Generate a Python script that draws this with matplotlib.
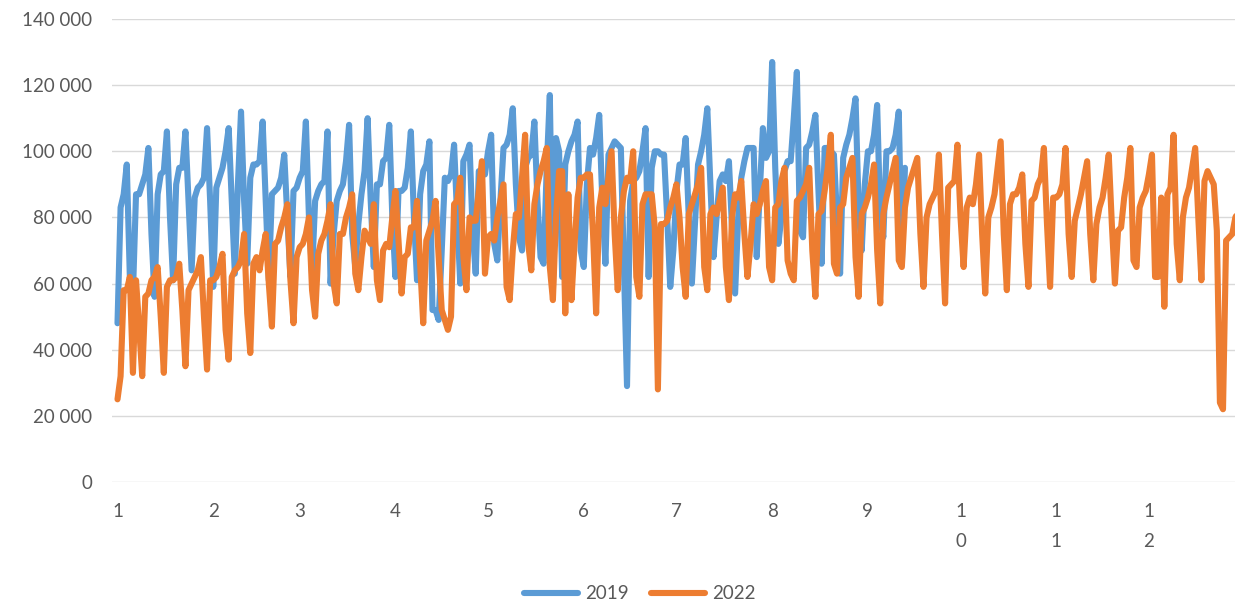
import numpy as np
import matplotlib
matplotlib.use("Agg")
import matplotlib.pyplot as plt
from matplotlib.ticker import FuncFormatter

# daily values, thousands, position = day of year
y2019 = [
    48, 83, 87, 96, 62, 57, 87, 87, 90, 93, 101, 75, 56, 87, 93, 94, 106, 80, 61, 90,
    95, 95, 106, 85, 64, 86, 89, 90, 92, 107, 85, 59, 89, 92, 95, 100, 107, 85, 63, 90,
    112, 85, 66, 92, 96, 96, 97, 109, 85, 61, 87, 88, 89, 92, 99, 80, 62, 88, 89, 92,
    94, 109, 80, 63, 85, 88, 90, 91, 106, 60, 75, 85, 88, 90, 97, 108, 75, 65, 78, 87,
    94, 110, 85, 65, 90, 90, 97, 98, 108, 80, 62, 88, 88, 89, 95, 106, 80, 61, 87, 94,
    96, 103, 52, 52, 49, 70, 92, 91, 93, 102, 80, 60, 97, 99, 102, 76, 63, 94, 93, 93,
    100, 105, 72, 67, 85, 101, 102, 105, 113, 90, 74, 70, 95, 98, 99, 109, 85, 68, 66, 95,
    117, 58, 104, 100, 62, 96, 100, 103, 105, 109, 70, 65, 90, 101, 99, 104, 111, 85, 66, 99,
    101, 103, 102, 101, 65, 29, 85, 91, 92, 94, 100, 107, 62, 95, 100, 100, 99, 99, 80, 59,
    70, 88, 96, 96, 104, 80, 60, 78, 96, 100, 105, 113, 90, 68, 80, 91, 93, 91, 97, 77,
    57, 80, 92, 97, 101, 101, 101, 68, 88, 107, 98, 100, 127, 95, 72, 80, 94, 97, 97, 110,
    124, 76, 74, 101, 102, 106, 111, 88, 66, 101, 101, 100, 99, 80, 63, 98, 102, 105, 110, 116,
    83, 70, 90, 100, 100, 105, 114, 80, 74, 100, 100, 101, 105, 112, 66, 95,
]

y2022 = [
    25, 32, 58, 58, 62, 33, 61, 47, 32, 56, 57, 61, 62, 65, 50, 33, 59, 61, 61, 62,
    66, 52, 35, 58, 60, 62, 64, 68, 50, 34, 61, 61, 62, 65, 69, 46, 37, 62, 64, 65,
    67, 75, 51, 39, 66, 68, 64, 70, 75, 60, 47, 72, 73, 77, 80, 84, 61, 48, 68, 71,
    72, 75, 80, 58, 50, 69, 73, 75, 79, 84, 60, 54, 75, 75, 80, 83, 87, 63, 58, 68,
    76, 74, 72, 84, 61, 55, 70, 72, 71, 80, 88, 73, 57, 68, 69, 77, 77, 85, 66, 48,
    73, 76, 79, 85, 68, 52, 49, 46, 50, 84, 85, 92, 68, 58, 80, 79, 79, 88, 97, 63,
    74, 75, 73, 80, 85, 90, 59, 55, 70, 81, 80, 92, 105, 72, 64, 84, 90, 94, 97, 101,
    65, 55, 80, 94, 94, 51, 87, 55, 72, 86, 92, 92, 93, 93, 75, 51, 83, 89, 84, 92,
    100, 75, 58, 80, 88, 92, 91, 100, 62, 56, 84, 87, 87, 87, 77, 28, 78, 78, 79, 83,
    86, 90, 80, 65, 56, 81, 84, 87, 90, 95, 65, 58, 81, 83, 81, 85, 89, 65, 55, 80,
    87, 86, 91, 75, 62, 72, 84, 81, 84, 88, 91, 65, 61, 83, 84, 91, 95, 67, 63, 61,
    85, 86, 88, 90, 95, 70, 56, 81, 82, 88, 95, 105, 66, 63, 83, 84, 92, 95, 98, 68,
    56, 81, 83, 86, 90, 96, 70, 54, 81, 86, 90, 94, 98, 67, 65, 83, 89, 92, 95, 98,
    75, 59, 80, 84, 86, 88, 99, 75, 54, 89, 90, 91, 102, 80, 65, 83, 86, 84, 90, 99,
    75, 57, 80, 83, 87, 95, 103, 75, 58, 84, 87, 87, 89, 93, 72, 59, 85, 86, 90, 92,
    101, 78, 59, 86, 86, 87, 90, 101, 75, 62, 79, 83, 87, 92, 97, 75, 61, 78, 83, 86,
    92, 99, 78, 60, 76, 77, 86, 92, 101, 67, 65, 83, 86, 88, 93, 99, 62, 62, 86, 53,
    87, 89, 105, 72, 61, 80, 86, 89, 95, 101, 80, 61, 91, 94, 92, 90, 76, 24, 22, 73,
    74, 75, 80, 82, 84,
]

month_start = [1, 32, 60, 91, 121, 152, 182, 213, 244, 274, 305, 335]
month_labels = ["1", "2", "3", "4", "5", "6", "7", "8", "9", "1\n0", "1\n1", "1\n2"]

blue = "#5B9BD5"
orange = "#ED7D31"
grey = "#595959"

plt.rcParams["font.family"] = ["Lato", "DejaVu Sans"]

W, H = 1235, 604
fig = plt.figure(figsize=(W / 100, H / 100), dpi=100)
ax = fig.add_axes([112 / W, 1 - 482 / H, (W - 112) / W, (482 - 19) / H])

x19 = np.arange(1, len(y2019) + 1)
x22 = np.arange(1, len(y2022) + 1)
ax.plot(x19, np.array(y2019) * 1000, color=blue, lw=4.4, label="2019",
        solid_joinstyle="round", solid_capstyle="round")
ax.plot(x22, np.array(y2022) * 1000, color=orange, lw=4.4, label="2022",
        solid_joinstyle="round", solid_capstyle="round")

ax.set_ylim(0, 140000)
ax.set_xlim(1 - 5.5 / 3.088, 1 + (W - 117.5) / 3.088)
ax.set_yticks(np.arange(0, 140001, 20000))
ax.yaxis.set_major_formatter(FuncFormatter(lambda v, p: f"{int(v):,}".replace(",", " ")))
ax.set_xticks(month_start)
ax.set_xticklabels(month_labels, linespacing=1.95, va="top")
ax.tick_params(axis="both", length=0, labelsize=13.5, colors=grey)
ax.tick_params(axis="y", pad=14)
ax.tick_params(axis="x", pad=15)
ax.grid(axis="y", color="#D9D9D9", lw=1)
ax.set_axisbelow(True)
for s in ax.spines.values():
    s.set_visible(False)

fig.legend(loc="lower center", bbox_to_anchor=(0.518, -0.025), ncol=2, frameon=False,
           fontsize=13.5, labelcolor=grey, handlelength=2.9, columnspacing=1.2,
           handletextpad=0.35)

fig.savefig("out.png", dpi=100)
